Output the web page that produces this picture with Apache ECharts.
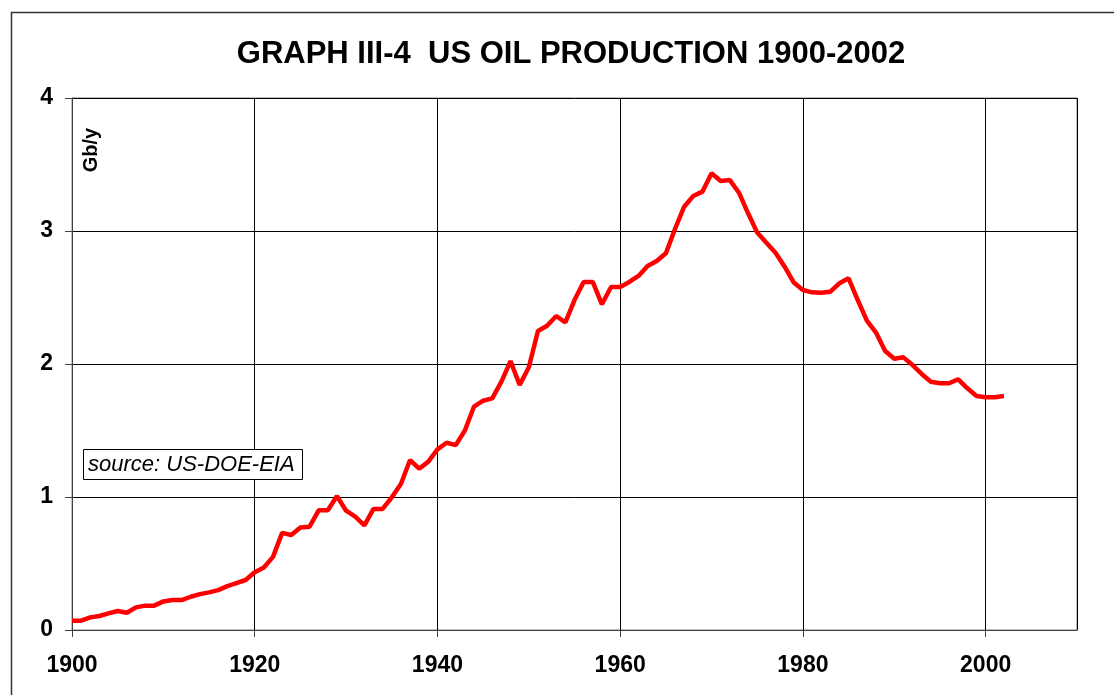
<!DOCTYPE html>
<html>
<head>
<meta charset="utf-8">
<script src="https://cdn.jsdelivr.net/npm/echarts@6/dist/echarts.min.js"></script>
<style>
    html, body { margin: 0; padding: 0; background: #fff; }
    #chart { width: 1114px; height: 695px; }
</style>
</head>
<body>
<div id="chart"></div>
<script>
// years 1900-2002
const startYear = 1900;
// production, Gb/y
const production = [
    0.07, 0.07, 0.095, 0.105, 0.125, 0.143, 0.13, 0.17, 0.183, 0.183,
    0.215, 0.225, 0.225, 0.25, 0.27, 0.283, 0.30, 0.33, 0.353, 0.376,
    0.434, 0.47, 0.55, 0.73, 0.714, 0.77, 0.777, 0.90, 0.90, 1.007,
    0.897, 0.852, 0.787, 0.91, 0.91, 0.998, 1.098, 1.278, 1.213, 1.266,
    1.358, 1.408, 1.39, 1.50, 1.68, 1.724, 1.742, 1.867, 2.022, 1.842,
    1.975, 2.248, 2.288, 2.361, 2.313, 2.481, 2.617, 2.617, 2.449, 2.579,
    2.579, 2.617, 2.662, 2.737, 2.774, 2.832, 3.015, 3.183, 3.263, 3.296,
    3.434, 3.376, 3.383, 3.288, 3.133, 2.988, 2.912, 2.837, 2.732, 2.612,
    2.556, 2.539, 2.536, 2.544, 2.607, 2.644, 2.481, 2.326, 2.236, 2.098,
    2.04, 2.05, 1.992, 1.925, 1.867, 1.855, 1.855, 1.885, 1.817, 1.759,
    1.75, 1.75, 1.759
];
const yTicks = [0, 1, 2, 3, 4];

const points = production.map((v, i) => [startYear + i, v]);

const chart = echarts.init(document.getElementById('chart'));
const font = 'Liberation Sans, Arial, sans-serif';

const option = {
    animation: false,
    backgroundColor: '#fff',
    title: {
        text: 'GRAPH III-4  US OIL PRODUCTION 1900-2002',
        left: 566,
        top: 34,
        textAlign: 'center',
        textStyle: {
            fontFamily: font,
            fontSize: 31,
            fontWeight: 'bold',
            color: '#000'
        }
    },
    grid: {
        left: 72,
        top: 98,
        width: 1005,
        height: 532,
        show: true,
        borderColor: '#808080',
        borderWidth: 1
    },
    xAxis: {
        type: 'value',
        min: 1900,
        max: 2010,
        interval: 20,
        axisLine: { show: true, onZero: false, lineStyle: { color: '#404040', width: 1 } },
        axisTick: { show: true, inside: false, length: 7, lineStyle: { color: '#404040' } },
        axisLabel: {
            showMaxLabel: false,
            margin: 24,
            formatter: v => String(v),
            fontFamily: font,
            fontSize: 23,
            fontWeight: 'bold',
            color: '#000'
        },
        splitLine: { show: true, lineStyle: { color: '#000', width: 1 } }
    },
    yAxis: {
        type: 'value',
        min: yTicks[0],
        max: yTicks[yTicks.length - 1],
        interval: 1,
        axisLine: { show: true, lineStyle: { color: '#404040', width: 1 } },
        axisTick: { show: true, inside: false, length: 7, lineStyle: { color: '#404040' } },
        axisLabel: {
            margin: 19,
            fontFamily: font,
            fontSize: 23,
            fontWeight: 'bold',
            color: '#000'
        },
        splitLine: { show: true, lineStyle: { color: '#000', width: 1 } }
    },
    graphic: [
        {
            type: 'rect',
            shape: { x: 11.5, y: 12.5, width: 1110, height: 700 },
            style: { fill: 'none', stroke: '#333', lineWidth: 1.5 },
            silent: true
        },
        {
            type: 'text',
            x: 91,
            y: 150,
            rotation: Math.PI / 2,
            style: {
                text: 'Gb/y',
                fontFamily: font,
                fontSize: 20,
                fontWeight: 'bold',
                fill: '#000',
                align: 'center',
                verticalAlign: 'middle'
            },
            z: 10
        },
        {
            type: 'rect',
            shape: { x: 83.5, y: 449.5, width: 219, height: 30 },
            style: { fill: '#fff', stroke: '#000', lineWidth: 1 },
            z: 10
        },
        {
            type: 'text',
            x: 88,
            y: 464.5,
            style: {
                text: 'source: US-DOE-EIA',
                fontFamily: font,
                fontSize: 22,
                fontStyle: 'italic',
                fill: '#000',
                align: 'left',
                verticalAlign: 'middle'
            },
            z: 11
        }
    ],
    series: [
        {
            type: 'line',
            data: points,
            showSymbol: false,
            lineStyle: { color: '#ff0000', width: 4.5 },
            z: 5
        }
    ]
};

chart.setOption(option);
</script>
</body>
</html>
